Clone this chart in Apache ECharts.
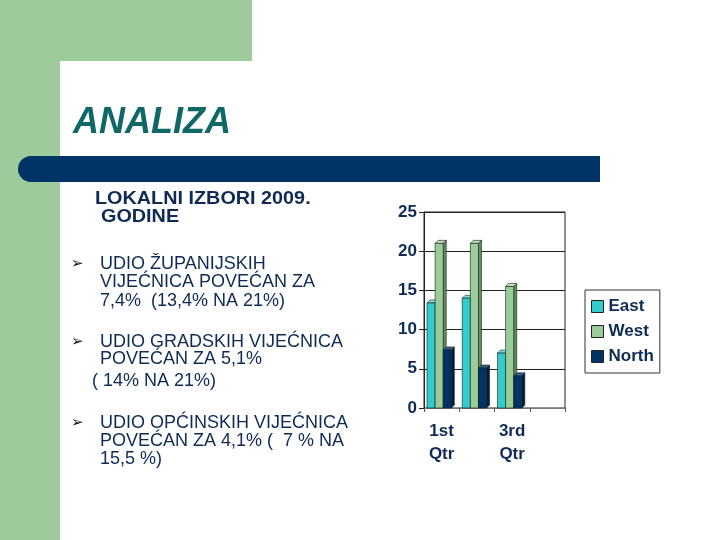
<!DOCTYPE html>
<html><head><meta charset="utf-8">
<script src="https://cdn.jsdelivr.net/npm/echarts@6/dist/echarts.min.js"></script>
<style>html,body{margin:0;padding:0;background:#fff}#c{width:720px;height:540px}</style>
</head><body><div id="c"></div>
<script>
const categories = ['1st Qtr', '2nd Qtr', '3rd Qtr', '4th Qtr'];
const seriesNames = ['East', 'West', 'North'];
const eastValues = [13.4, 14, 7, null];
const westValues = [21, 21, 15.5, null];
const northValues = [7.4, 5.1, 4.1, null];
const yTicks = [0, 5, 10, 15, 20, 25];

const NAVY = '#0f2b55';
const palette = [
  {front: '#33CCCC', top: '#7be0e0', side: '#1f8f8f'},
  {front: '#99CC99', top: '#c2e2c2', side: '#5f8f5f'},
  {front: '#003366', top: '#33608c', side: '#001f40'}
];

function make3D(si) {
  return function (params, api) {
    const v = api.value(1);
    if (v == null || isNaN(v)) return;
    const c = api.value(0);
    const base = api.coord([c, 0]);
    const top = api.coord([c, v]);
    const bw = api.size([1, 0])[0];
    const w = bw * 0.23;
    const d = bw * 0.085;
    const x0 = base[0] - bw / 2 + bw * 0.085 + si * w;
    const y0 = base[1], y1 = top[1];
    const col = palette[si];
    const stroke = {stroke: '#1a1a1a', lineWidth: 0.6};
    return {
      type: 'group',
      children: [
        {type: 'polygon', shape: {points: [[x0 + w, y1], [x0 + w + d, y1 - d], [x0 + w + d, y0 - d], [x0 + w, y0]]}, style: Object.assign({fill: col.side}, stroke)},
        {type: 'polygon', shape: {points: [[x0, y1], [x0 + w, y1], [x0 + w + d, y1 - d], [x0 + d, y1 - d]]}, style: Object.assign({fill: col.top}, stroke)},
        {type: 'rect', shape: {x: x0, y: y1, width: w, height: y0 - y1}, style: Object.assign({fill: col.front}, stroke)}
      ]
    };
  };
}

const allValues = [eastValues, westValues, northValues];
const series = seriesNames.map((name, si) => ({
  name: name,
  type: 'custom',
  z: 6,
  renderItem: make3D(si),
  clip: false,
  encode: {x: 0, y: 1},
  itemStyle: {color: palette[si].front, borderColor: '#222', borderWidth: 1},
  data: allValues[si].map((v, i) => [i, v == null ? '-' : v])
}));

const txt = (text, x, y, extra, el) => Object.assign({
  type: 'text', x: x, y: y, z: 10,
  style: Object.assign({text: text, fill: NAVY, font: '18px "Liberation Sans", Arial, sans-serif', verticalAlign: 'middle', align: 'left'}, extra || {})
}, el || {});

const bodyLines = [
  ['UDIO ŽUPANIJSKIH', 100, 264], ['VIJEĆNICA POVEĆAN ZA', 100, 282.5], ['7,4%  (13,4% NA 21%)', 100, 301],
  ['UDIO GRADSKIH VIJEĆNICA', 100, 342], ['POVEĆAN ZA 5,1%', 100, 359], ['( 14% NA 21%)', 92, 381],
  ['UDIO OPĆINSKIH VIJEĆNICA', 100, 423], ['POVEĆAN ZA 4,1% (  7 % NA', 100, 441], ['15,5 %)', 100, 459]
];

const graphics = [
  {type: 'rect', shape: {x: 0, y: 0, width: 252, height: 61}, style: {fill: '#9ecb9c'}, z: -10, silent: true},
  {type: 'rect', shape: {x: 0, y: 0, width: 60, height: 540}, style: {fill: '#9ecb9c'}, z: -10, silent: true},
  {type: 'rect', shape: {x: 60, y: 61, width: 700, height: 520, r: [20, 0, 0, 0]}, style: {fill: '#ffffff'}, z: -9, silent: true},
  {type: 'rect', shape: {x: 18, y: 156, width: 582, height: 26, r: [13, 0, 0, 13]}, style: {fill: '#003366'}, z: -8, silent: true},
  txt('ANALIZA', 73, 123, {fill: '#0e6868', font: 'italic bold 36px "Liberation Sans", Arial, sans-serif'}),
  txt('LOKALNI IZBORI 2009.', 95, 199, {font: 'bold 18px "Liberation Sans", Arial, sans-serif'}, {scaleX: 1.1}),
  txt('GODINE', 101, 217, {font: 'bold 18px "Liberation Sans", Arial, sans-serif'}, {scaleX: 1.1})
];
bodyLines.forEach(l => graphics.push(txt(l[0], l[1], l[2])));
[264, 342, 423].forEach(y => graphics.push(txt('➢', 71, y, {font: '15px "DejaVu Sans", sans-serif', fill: '#111'})));

const chart = echarts.init(document.getElementById('c'), null, {renderer: 'canvas'});
chart.setOption({
  animation: false,
  backgroundColor: '#ffffff',
  graphic: graphics,
  grid: {left: 424, top: 212, right: 155, bottom: 132, show: true, borderColor: '#222', borderWidth: 1, z: 3},
  legend: {
    orient: 'vertical', left: 585, top: 290, z: 7,
    data: seriesNames.map((n, i) => ({name: n, icon: 'rect', itemStyle: {color: palette[i].front, borderColor: '#222', borderWidth: 1}})),
    backgroundColor: '#ffffff', borderColor: '#333', borderWidth: 1,
    padding: [8, 6, 8, 6], itemWidth: 12, itemHeight: 12, itemGap: 8,
    textStyle: {fontSize: 17, fontWeight: 'bold', color: NAVY, fontFamily: '"Liberation Sans", Arial, sans-serif'}
  },
  xAxis: {
    type: 'category', data: categories, z: 4,
    axisLine: {lineStyle: {color: '#777', width: 1}},
    axisTick: {show: true, interval: 0, length: 4, lineStyle: {color: '#555'}},
    axisLabel: {interval: 1, margin: 12, fontSize: 17, fontWeight: 'bold', color: NAVY, lineHeight: 23,
      fontFamily: '"Liberation Sans", Arial, sans-serif', formatter: v => v.replace(' ', '\n')}
  },
  yAxis: {
    type: 'value', min: 0, max: 25, interval: 5, z: 4,
    axisLine: {show: true, lineStyle: {color: '#222'}},
    axisTick: {show: true, length: 5, lineStyle: {color: '#222'}},
    splitLine: {show: true, lineStyle: {color: '#222', width: 1}},
    axisLabel: {margin: 7, fontSize: 17, fontWeight: 'bold', color: NAVY, fontFamily: '"Liberation Sans", Arial, sans-serif',
      formatter: v => (yTicks.indexOf(v) >= 0 ? String(v) : '')}
  },
  series: series
});
</script></body></html>
